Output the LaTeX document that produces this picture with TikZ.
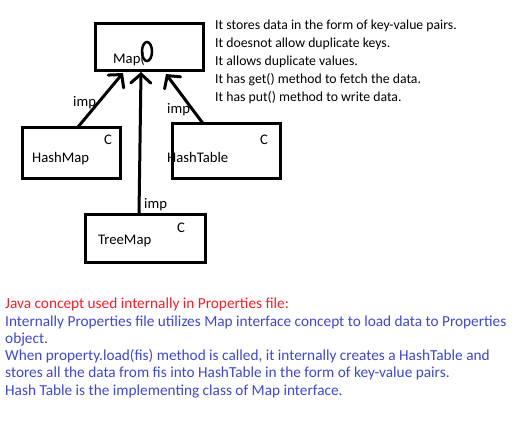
\documentclass[tikz,border=0pt]{standalone}
\usepackage{fontspec}
\setmainfont{Carlito}
\usetikzlibrary{arrows.meta}
\definecolor{txtred}{RGB}{245,30,40}
\definecolor{txtblue}{RGB}{63,72,204}
\tikzset{
  box/.style={draw=black, line width=3pt},
  lbl/.style={inner sep=0pt, anchor=base west, font=\fontsize{14.67}{17.6}\selectfont},
  rtxt/.style={lbl, font=\fontsize{13.75}{17}\selectfont},
  btxt/.style={lbl, font=\fontsize{15.3}{17.6}\selectfont},
  conn/.style={line width=3pt, -{Straight Barb[length=9pt,width=20pt,line cap=round]}},
}
\begin{document}
\begin{tikzpicture}[x=1pt,y=-1pt]
\useasboundingbox[fill=white] (0,0) rectangle (532,447);
% boxes
\draw[box] (95,23) rectangle (203,70);
\draw[box] (22,127) rectangle (120,178.5);
\draw[box] (172.5,123.5) rectangle (280,178.5);
\draw[box] (85,214) rectangle (205,262);
% anchor coordinates
\coordinate (mapL) at (123,73);
\coordinate (mapM) at (141,72);
\coordinate (mapR) at (166,74);
\coordinate (hmTop) at (78,127);
\coordinate (htTop) at (203,123.5);
\coordinate (tmTop) at (139,214);
% connectors
\draw[conn] (hmTop) -- (mapL);
\draw[conn] (htTop) -- (mapR);
\draw[conn] (tmTop) -- (mapM);
% Map label
\node[lbl] (maptxt) at (113,63) {Map(};
\draw[line width=2.5pt] (147,51.5) ellipse (5 and 9.5);
% class labels
\node[lbl] (hm) at (32,162) {HashMap};
\node[lbl] (hmc) at (104,144) {C};
\node[lbl] (ht) at (167,162) {HashTable};
\node[lbl] (htc) at (260,144) {C};
\node[lbl] (tm) at (98,244) {TreeMap};
\node[lbl] (tmc) at (177,232) {C};
\node[lbl] (imp1) at (73,106) {imp};
\node[lbl] (imp2) at (167,113) {imp};
\node[lbl] (imp3) at (144,208) {imp};
% right text
\node[rtxt] (r1) at (215,29) {It stores data in the form of key-value pairs.};
\node[rtxt] (r2) at (215,47) {It doesnot allow duplicate keys.};
\node[rtxt] (r3) at (215,65) {It allows duplicate values.};
\node[rtxt] (r4) at (215,83) {It has get() method to fetch the data.};
\node[rtxt] (r5) at (215,101) {It has put() method to write data.};
% bottom text
\node[btxt, text=txtred] (b1) at (5,308) {Java concept used internally in Properties file:};
\node[btxt, text=txtblue] (b2) at (5,326) {Internally Properties file utilizes Map interface concept to load data to Properties};
\node[btxt, text=txtblue] (b3) at (5,343) {object.};
\node[btxt, text=txtblue] (b4) at (5,360) {When property.load(fis) method is called, it internally creates a HashTable and};
\node[btxt, text=txtblue] (b5) at (5,377) {stores all the data from fis into HashTable in the form of key-value pairs.};
\node[btxt, text=txtblue] (b6) at (5,395) {Hash Table is the implementing class of Map interface.};
\end{tikzpicture}
\end{document}
